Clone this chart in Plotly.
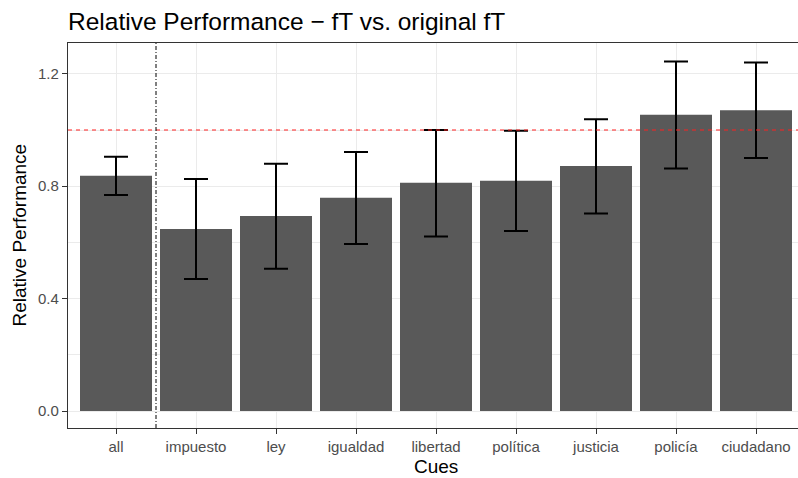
import plotly.graph_objects as go

# Relative performance per cue (with confidence bounds)
cues = ["all", "impuesto", "ley", "igualdad", "libertad", "política",
        "justicia", "policía", "ciudadano"]
performance = [0.837, 0.648, 0.694, 0.759, 0.812, 0.819, 0.872, 1.054, 1.070]
upper = [0.905, 0.826, 0.880, 0.922, 1.000, 0.997, 1.038, 1.244, 1.240]
lower = [0.769, 0.470, 0.506, 0.594, 0.621, 0.641, 0.703, 0.863, 0.900]

y_ticks = [0.0, 0.4, 0.8, 1.2]
y_tick_labels = ["0.0", "0.4", "0.8", "1.2"]

err_plus = [u - p for u, p in zip(upper, performance)]
err_minus = [p - l for p, l in zip(performance, lower)]

FONT = "Liberation Sans, Arial, sans-serif"
BORDER = "#333333"
GRID = "#EBEBEB"

fig = go.Figure()
fig.add_trace(go.Bar(
    x=list(range(len(cues))),
    y=performance,
    marker=dict(color="#595959", line=dict(width=0)),
    width=0.9,
    error_y=dict(
        type="data",
        symmetric=False,
        array=err_plus,
        arrayminus=err_minus,
        color="black",
        thickness=2,
        width=12,
    ),
    showlegend=False,
))

# reference line at parity and separator after the aggregate bar
fig.add_shape(type="line", xref="paper", yref="y", x0=0, x1=1, y0=1.0, y1=1.0,
              line=dict(color="#FF2020", width=1.1, dash="4px,4px"),
              layer="above")
fig.add_shape(type="line", xref="x", yref="paper", x0=0.5, x1=0.5, y0=0, y1=1,
              line=dict(color="black", width=1, dash="4px,2px,1px,2px"),
              layer="above")

fig.update_layout(
    width=798, height=478,
    margin=dict(l=68, r=0, t=43, b=50),
    paper_bgcolor="white",
    plot_bgcolor="white",
    font=dict(family=FONT, color="black"),
    title=dict(
        text="Relative Performance − fT vs. original fT",
        x=0, xref="paper", xanchor="left",
        y=1 - 21 / 478, yref="container", yanchor="middle",
        font=dict(size=24.5, family=FONT, color="black"),
    ),
    xaxis=dict(
        range=[-0.6, -0.6 + 730 / 80],
        tickmode="array",
        tickvals=list(range(len(cues))),
        ticktext=cues,
        tickfont=dict(size=15, color="#4D4D4D", family=FONT),
        ticks="outside", ticklen=5, tickcolor=BORDER, tickwidth=1,
        showgrid=True, gridcolor=GRID, gridwidth=1.1,
        showline=True, linecolor=BORDER, linewidth=1.3, mirror=True,
        zeroline=False,
    ),
    yaxis=dict(
        range=[-0.0605, 1.3096],
        tickmode="array",
        tickvals=y_ticks,
        ticktext=y_tick_labels,
        tickfont=dict(size=15, color="#4D4D4D", family=FONT),
        ticks="outside", ticklen=5, tickcolor=BORDER, tickwidth=1,
        showgrid=True, gridcolor=GRID, gridwidth=1.1,
        minor=dict(tickvals=[0.2, 0.6, 1.0], showgrid=True,
                   gridcolor=GRID, gridwidth=0.6, ticks=""),
        showline=True, linecolor=BORDER, linewidth=1.3, mirror=False,
        zeroline=False,
    ),
    annotations=[
        dict(text="Cues", xref="paper", yref="paper", x=(436 - 68) / 730,
             y=0, yshift=-38, xanchor="center", yanchor="middle", showarrow=False,
             font=dict(size=19, family=FONT, color="black")),
        dict(text="Relative Performance", xref="paper", yref="paper",
             x=0, xshift=-49, y=0.5, textangle=-90, xanchor="center", yanchor="middle",
             showarrow=False, font=dict(size=19, family=FONT, color="black")),
    ],
)

fig.write_html("out.html")
